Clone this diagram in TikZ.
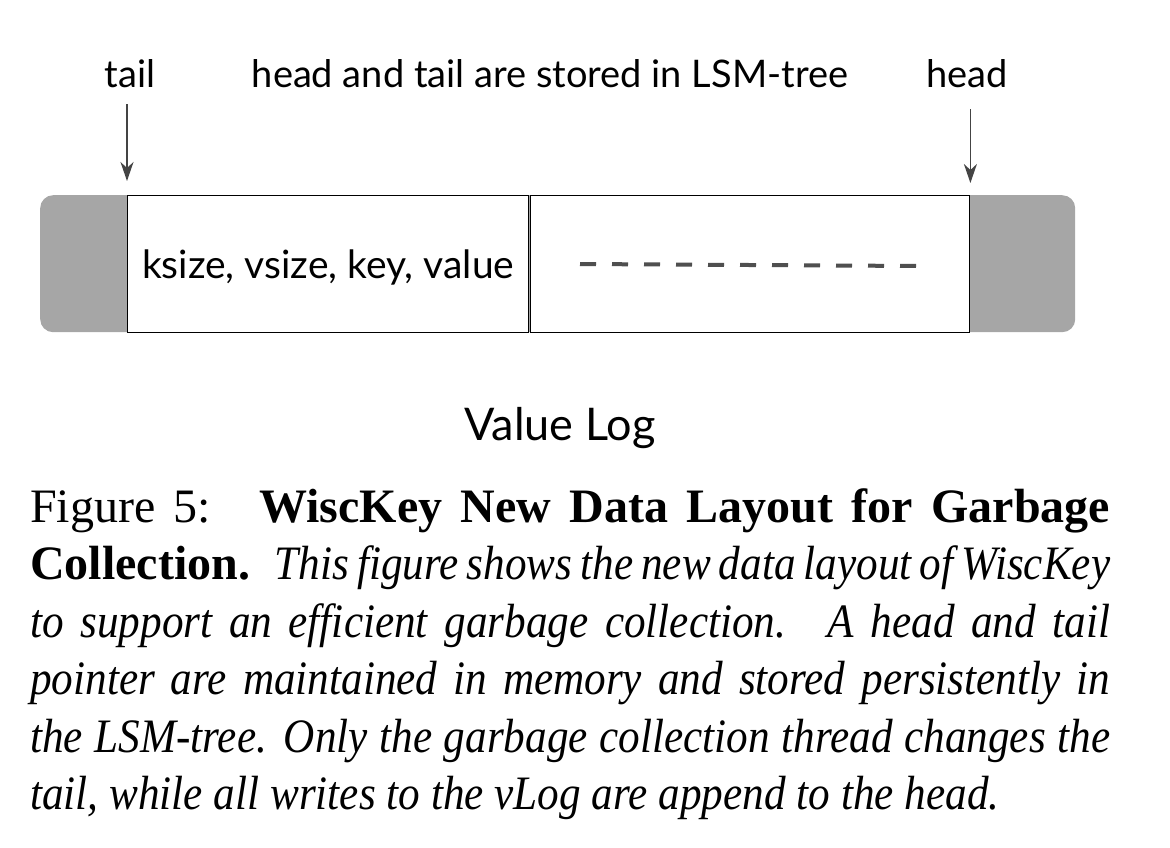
\documentclass[tikz,border=0pt]{standalone}
\usepackage{fontspec}
\setmainfont{Liberation Serif}[ItalicFeatures={FakeStretch=0.9}]
\newfontfamily\labelfont{Lato}
\usetikzlibrary{arrows.meta}
\definecolor{logGray}{HTML}{A6A6A6}
\definecolor{arrGray}{HTML}{444444}
\definecolor{dashGray}{HTML}{4F4F4F}
\tikzset{
  lbl/.style={font=\labelfont\fontsize{38bp}{44bp}\selectfont, inner sep=0pt, anchor=base},
  cell/.style={draw=black, line width=1.4bp, fill=white, inner sep=0pt, minimum height=137bp, text height=33bp, text depth=4bp, font=\labelfont\fontsize{39bp}{44bp}\selectfont},
  ptr/.style={draw=arrGray, line width=1.7bp, -{Stealth[length=19bp,width=13bp,inset=6bp]}},
}
\begin{document}
\begin{tikzpicture}[x=1bp,y=-1bp]
\useasboundingbox (0,0) rectangle (1170,848);
% gray log background
\node[fill=logGray, rounded corners=13bp, minimum width=1035bp, minimum height=137bp, inner sep=0pt, anchor=north west] (log) at (40,195) {};
% cells
\node[cell, minimum width=401bp, anchor=north west] (c1) at (127,195) {ksize, vsize, key, value};
\node[cell, minimum width=439bp, anchor=north west] (c2) at (530,195) {};
% dashes
\coordinate (d1) at (580,264);
\coordinate (d2) at (918,266);
\draw[dashGray, line width=4bp, dash pattern=on 16bp off 16bp] (d1) -- (d2);
% labels
\node[lbl] (tail) at (130,87) {tail};
\node[lbl] (mid) at (550,87) {head and tail are stored in LSM-tree};
\node[lbl] (head) at (967,87) {head};
\draw[ptr] ([yshift=-17bp]tail.base -| c1.north west) -- ([yshift=14bp]c1.north west);
\draw[ptr] ([yshift=-22bp]head.base -| c2.north east) -- ([yshift=12bp]c2.north east);
\node[lbl, font=\labelfont\fontsize{45bp}{50bp}\selectfont] (vlog) at (560,440) {Value Log};
% caption
\node[inner sep=0pt, anchor=base west, text width=1080bp, align=justify,
      font=\fontsize{48bp}{57.5bp}\selectfont] (cap) at (30,522)
{Figure 5:\hspace{0.4em} \textbf{WiscKey New Data Layout for Garbage}\linebreak
\textbf{Collection.}\hspace{0.2em} \textit{This figure shows the new data layout of WiscKey}\linebreak
\textit{to support an efficient garbage collection.\hspace{0.2em} A head and tail}\linebreak
\textit{pointer are maintained in memory and stored persistently in}\linebreak
\textit{the LSM-tree. Only the garbage collection thread changes the}\linebreak
\textit{tail, while all writes to the vLog are append to the head.}\par};
\end{tikzpicture}
\end{document}
